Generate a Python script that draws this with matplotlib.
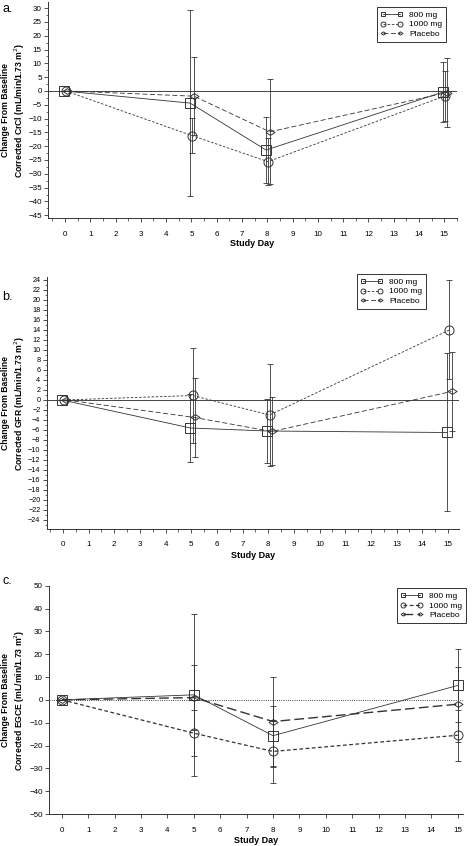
import numpy as np
import matplotlib
matplotlib.use("Agg")
import matplotlib.pyplot as plt
from matplotlib.ticker import MultipleLocator

plt.rcParams['font.family'] = ['Liberation Sans', 'DejaVu Sans']

days = np.array([0, 5, 8, 15])
series = ["800 mg", "1000 mg", "Placebo"]

# panel a: corrected CrCl
a_800 = [0, -4.4, -21.4, -0.4]
a_800_sd = [0, 33.6, 11.8, 11.0]
a_1000 = [0, -16.2, -25.6, -1.8]
a_1000_sd = [0, 6.4, 8.6, 9.0]
a_pla = [0, -1.9, -14.8, -0.6]
a_pla_sd = [0, 14.2, 19.0, 12.5]

# panel b: corrected GFR
b_800 = [0, -5.6, -6.2, -6.5]
b_800_sd = [0, 6.8, 6.4, 15.8]
b_1000 = [0, 0.9, -3.0, 14.0]
b_1000_sd = [0, 9.5, 10.2, 9.9]
b_pla = [0, -3.5, -6.3, 1.7]
b_pla_sd = [0, 7.9, 6.8, 7.9]

# panel c: corrected EGCE
c_800 = [0, 2.2, -15.7, 6.3]
c_800_sd = [0, 35.6, 13.1, 15.9]
c_1000 = [0, -14.6, -22.6, -15.5]
c_1000_sd = [0, 10.2, 13.8, 11.2]
c_pla = [0, 1.0, -9.5, -1.9]
c_pla_sd = [0, 14.3, 19.7, 16.5]

ylabels = ["Change From Baseline\nCorrected CrCl (mL/min/1.73 m$^2$)",
           "Change From Baseline\nCorrected GFR (mL/min/1.73 m$^2$)",
           "Change From Baseline\nCorrected EGCE (mL/min/1.73 m$^2$)"]

W, H = 473, 846
fig = plt.figure(figsize=(W / 100, H / 100), dpi=100)

# flattened diamond
diamond = [(-1, 0), (0, 0.65), (1, 0), (0, -0.65), (-1, 0)]
col = '#333333'


def px_axes(l, r, t, b):
    return fig.add_axes([l / W, 1 - b / H, (r - l) / W, (b - t) / H])


def panel(ax, vals, sds, offsets, styles, ylim, xlim, ymaj, ymin, xminor,
          zero_ls, ylabel, letter, letter_y, leg_xy, xlab_y, ysize):
    markers = ['s', 'o', diamond]
    handles = []
    for i in range(3):
        x = days + offsets[i]
        ls, lw = styles[i]
        ax.errorbar(x, vals[i], yerr=sds[i], fmt='none', ecolor=col,
                    elinewidth=0.6, capsize=2.2, capthick=0.6, zorder=2)
        h, = ax.plot(x, vals[i], color=col, lw=lw, linestyle=ls,
                     marker=markers[i], ms=6.5, mfc='none',
                     mec=col, mew=0.7, zorder=3, label=series[i])
        handles.append(h)
    ax.axhline(0, color='#444444' if zero_ls == '-' else 'black',
               lw=0.7 if zero_ls == '-' else 0.6, ls=zero_ls, zorder=1)
    ax.set_xlim(*xlim)
    ax.set_ylim(*ylim)
    ax.set_xticks(range(0, 16))
    if xminor:
        ax.xaxis.set_minor_locator(MultipleLocator(0.5))
    ax.yaxis.set_major_locator(MultipleLocator(ymaj))
    if ymin:
        ax.yaxis.set_minor_locator(MultipleLocator(ymin))
    for s in ['top', 'right']:
        ax.spines[s].set_visible(False)
    for s in ['left', 'bottom']:
        ax.spines[s].set_linewidth(0.7)
        ax.spines[s].set_color('#333333')
    ax.tick_params(which='major', length=3, width=0.6,
                   colors='#333333', labelcolor='black')
    ax.tick_params(which='minor', length=1.8, width=0.5, colors='#333333')
    ax.tick_params(axis='x', which='major', pad=6, labelsize=5.8)
    ax.tick_params(axis='y', which='major', pad=1.5, labelsize=ysize)
    pos = ax.get_position()
    # y label placed in figure pixels, centred on the axes
    fig.text(14 / W, (pos.y0 + pos.y1) / 2, ylabel, rotation=90,
             fontsize=6.2, fontweight='bold', linespacing=1.3,
             ha='center', va='center', multialignment='center')
    fig.text(2 / W, 1 - letter_y / H, letter, fontsize=9, va='center')
    fig.text((pos.x0 + pos.x1) / 2, 1 - xlab_y / H,
             "Study Day", fontsize=6.5, fontweight='bold', ha='center', va='center')
    leg = fig.legend(handles=handles, loc='upper left',
                     bbox_to_anchor=(leg_xy[0] / W, 1 - leg_xy[1] / H),
                     fontsize=6, frameon=True, fancybox=False, edgecolor='black',
                     handlelength=2.6, handletextpad=0.8, labelspacing=0.25,
                     borderpad=0.45, markerscale=0.55, numpoints=2,
                     borderaxespad=0)
    leg.get_frame().set_linewidth(0.7)


ax_a = px_axes(48, 457, 2, 218)
panel(ax_a, [a_800, a_1000, a_pla], [a_800_sd, a_1000_sd, a_pla_sd],
      [-0.05, 0.03, 0.1], [('-', 0.6), ((0, (3, 2)), 0.6), ((0, (6, 3)), 0.6)],
      (-46, 32.2), (-0.67, 15.5), 5, 2.5, True, '-', ylabels[0], 'a.', 9,
      (377, 7), 243, 5.8)

ax_b = px_axes(46.7, 459, 277, 529)
panel(ax_b, [b_800, b_1000, b_pla], [b_800_sd, b_1000_sd, b_pla_sd],
      [-0.03, 0.05, 0.14], [('-', 0.6), ((0, (3, 2)), 0.6), ((0, (6, 3)), 0.6)],
      (-25.8, 24.6), (-0.63, 15.43), 2, 1, True, '-', ylabels[1], 'b.', 297,
      (357, 274), 556, 5.2)

ax_c = px_axes(49, 463, 585.7, 814)
panel(ax_c, [c_800, c_1000, c_pla], [c_800_sd, c_1000_sd, c_pla_sd],
      [0, 0, 0], [('-', 0.6), ((0, (3, 2)), 0.9), ((0, (7, 3)), 1.0)],
      (-50, 50), (-0.49, 15.2), 10, None, False, ':', ylabels[2], 'c.', 581,
      (397, 588), 840, 5.8)

fig.savefig("out.png", dpi=100)
